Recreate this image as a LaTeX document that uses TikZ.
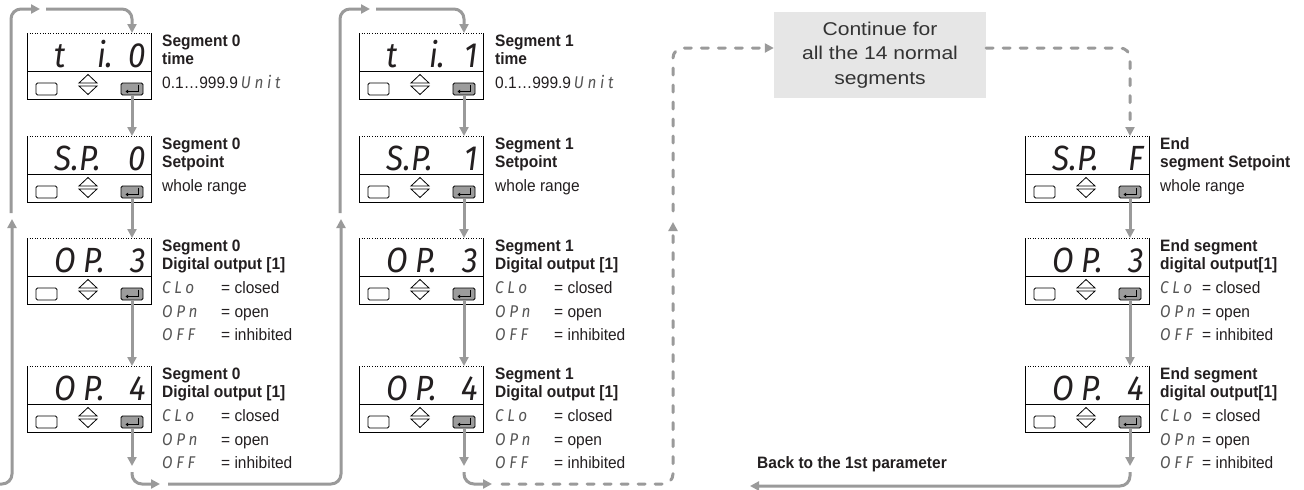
\documentclass[tikz,border=0pt]{standalone}
\usepackage{fontspec}
\setmainfont[FakeStretch=0.94]{Liberation Sans}
\newfontfamily\boxfont[FakeStretch=1.14]{Liberation Sans}
\newfontfamily\segfont[FakeStretch=0.9]{Fira Sans Italic}
\newfontfamily\legfont[FakeStretch=0.9,LetterSpace=22]{Fira Sans Italic}
\usetikzlibrary{arrows.meta}
\definecolor{ag}{HTML}{9A9A9A}
\definecolor{eg}{HTML}{9C9C9C}
\definecolor{gbx}{HTML}{E6E6E6}
\definecolor{tx}{HTML}{231F20}
\definecolor{tx2}{HTML}{333333}
\definecolor{lgc}{HTML}{555555}
\tikzset{
  arr/.style={draw=ag, line width=3pt, -{Triangle[length=9pt,width=9pt]}},
  rc/.style={rounded corners=10pt},
  dsh/.style={dash pattern=on 7pt off 10pt, line cap=round},
  boxnode/.style={minimum width=124pt, minimum height=66pt, inner sep=0pt, outer sep=0pt, draw=none},
  btn/.style={draw=black, line width=0.8pt, fill=white, minimum width=21pt, minimum height=12pt, rounded corners=1.5pt, inner sep=0pt, outer sep=0pt},
  ebtn/.style={btn, fill=eg, minimum width=22pt},
  seg/.style={font=\segfont\fontsize{35}{35}\selectfont, inner sep=0pt, text=tx},
  hd/.style={font=\bfseries\fontsize{16.5}{18}\selectfont, inner sep=0pt, anchor=base west, text=tx},
  rg/.style={font=\fontsize{16.5}{18}\selectfont, inner sep=0pt, anchor=base west, text=tx},
  lg/.style={font=\legfont\fontsize{17}{17}\selectfont, inner sep=0pt, anchor=base west, text=lgc},
}
% display: #1 name, #2 x, #3 y, #4 g1, #5 g2, #6 g3, #7 x of g2
\newcommand{\disp}[7]{%
\begin{scope}[shift={(#2,#3)}]
\node[boxnode] (#1) at (62,33) {};
\draw[line width=0.8pt] (0,0) -- (0,66) -- (124,66) -- (124,0);
\draw[line width=0.8pt, dash pattern=on 1pt off 1.6pt] (0,0) -- (124,0);
\draw[line width=0.8pt] (0,38) -- (124,38);
\node[btn] (#1l) at (19.5,56) {};
\node[ebtn] (#1e) at (105,56) {};
\draw[line width=0.9pt, -{Triangle[length=2.5pt,width=3.5pt]}] (111,51.5) -- (111,58.5) -- (98.5,58.5);
\draw[line width=0.8pt, fill=white] (52,50) -- (61,41.5) -- (70,50) -- cycle;
\draw[line width=0.8pt, fill=white] (52,53) -- (61,61.5) -- (70,53) -- cycle;
\node[seg, anchor=base west] (#1a) at (27,34) {#4};
\node[seg, anchor=base west] (#1b) at (#7,34) {#5};
\node[seg, anchor=base east] (#1c) at (119,34) {#6};
\end{scope}}
\newcommand{\heads}[5]{%
\node[hd] (#1a) at (#2,#3+13.5) {#4};
\node[hd] (#1b) at (#2,#3+31.5) {#5};}
\newcommand{\legend}[4]{%
\node[lg] (#1c) at (#2,#3+55) {CLo};
\node[rg] (#1cc) at (#4,#3+55) {= closed};
\node[lg] (#1o) at (#2,#3+79) {OPn};
\node[rg] (#1oo) at (#4,#3+79) {= open};
\node[lg] (#1f) at (#2,#3+102) {OFF};
\node[rg] (#1ff) at (#4,#3+102) {= inhibited};}
\begin{document}
\begin{tikzpicture}[x=1pt,y=-1pt]
\useasboundingbox (0,0) rectangle (1304,490);
\fill[white] (0,0) rectangle (1304,490);

% ---- column 0
\disp{b00}{27}{33}{t}{i.}{0}{70}
\disp{b01}{27}{136}{S.}{P.}{0}{52}
\disp{b02}{27}{238}{O}{P.}{3}{56}
\disp{b03}{27}{366}{O}{P.}{4}{56}
\heads{t00}{162}{33}{Segment 0}{time}
\node[rg] (t00c) at (162,88) {0.1…999.9\,{\legfont\fontsize{17}{17}\selectfont\color{lgc}Unit}};
\heads{t01}{162}{136}{Segment 0}{Setpoint}
\node[rg] (t01c) at (162,191) {whole range};
\heads{t02}{162}{238}{Segment 0}{Digital output [1]}
\legend{t02}{162}{238}{221}
\heads{t03}{162}{366}{Segment 0}{Digital output [1]}
\legend{t03}{162}{366}{221}

% ---- column 1
\disp{b10}{359}{33}{t}{i.}{1}{70}
\disp{b11}{359}{136}{S.}{P.}{1}{52}
\disp{b12}{359}{238}{O}{P.}{3}{56}
\disp{b13}{359}{366}{O}{P.}{4}{56}
\heads{t10}{495}{33}{Segment 1}{time}
\node[rg] (t10c) at (495,88) {0.1…999.9\,{\legfont\fontsize{17}{17}\selectfont\color{lgc}Unit}};
\heads{t11}{495}{136}{Segment 1}{Setpoint}
\node[rg] (t11c) at (495,191) {whole range};
\heads{t12}{495}{238}{Segment 1}{Digital output [1]}
\legend{t12}{495}{238}{554}
\heads{t13}{495}{366}{Segment 1}{Digital output [1]}
\legend{t13}{495}{366}{554}

% ---- end column
\disp{b21}{1025}{136}{S.}{P.}{F}{52}
\disp{b22}{1025}{238}{O}{P.}{3}{56}
\disp{b23}{1025}{366}{O}{P.}{4}{56}
\heads{t21}{1160}{136}{End}{segment Setpoint}
\node[rg] (t21c) at (1160,191) {whole range};
\heads{t22}{1160}{238}{End segment}{digital output[1]}
\legend{t22}{1160}{238}{1202}
\heads{t23}{1160}{366}{End segment}{digital output[1]}
\legend{t23}{1160}{366}{1202}

% ---- grey box and back label
\node[fill=gbx, minimum width=212pt, minimum height=86pt, inner sep=0pt, align=center,
      font=\boxfont\fontsize{18.5}{24.5}\selectfont, text=tx2] (gray) at (880,55)
      {Continue for\\all the 14 normal\\segments};
\node[hd] (back) at (757,468) {Back to the 1st parameter};

% ---- connector coordinates
\coordinate (in0) at (-8,484);
\coordinate (u0) at (12,219);
\coordinate (u0b) at (11,213);
\coordinate (t0) at (40,9);
\coordinate (t0b) at (46,9);
\coordinate (d0) at (132,466);
\coordinate (d0b) at (132,472);
\coordinate (h0) at (160,484);
\coordinate (h0b) at (168,484);
\coordinate (u1) at (341,219);
\coordinate (u1b) at (340,213);
\coordinate (t1) at (370,9);
\coordinate (t1b) at (376,9);
\coordinate (d1) at (464,466);
\coordinate (d1b) at (464,472);
\coordinate (h1) at (492,484);
\coordinate (h1b) at (502,484);
\coordinate (u2) at (673,222);
\coordinate (u2b) at (673,211);
\coordinate (d2) at (1130,466);
\coordinate (d2b) at (1130,472);
\coordinate (bk) at (750,486);

% ---- connectors column 0
\draw[arr,rc] (in0) -| (u0);
\draw[arr,rc] (u0b) |- (t0);
\draw[arr,rc] (t0b) -| (b00e |- b00.north);
\draw[arr] (b00e.south) -- (b00e |- b01.north);
\draw[arr] (b01e.south) -- (b01e |- b02.north);
\draw[arr] (b02e.south) -- (b02e |- b03.north);
\draw[arr] (b03e.south) -- (d0);
\draw[arr,rc] (d0b) |- (h0);
% ---- column 1
\draw[arr,rc] (h0b) -| (u1);
\draw[arr,rc] (u1b) |- (t1);
\draw[arr,rc] (t1b) -| (b10e |- b10.north);
\draw[arr] (b10e.south) -- (b10e |- b11.north);
\draw[arr] (b11e.south) -- (b11e |- b12.north);
\draw[arr] (b12e.south) -- (b12e |- b13.north);
\draw[arr] (b13e.south) -- (d1);
\draw[arr,rc] (d1b) |- (h1);
% ---- dashed continuation
\draw[arr,rc,dsh] (h1b) -| (u2);
\draw[arr,rc,dsh] (u2b) |- ([yshift=7pt]gray.west);
\draw[arr,rc,dsh] ([yshift=7pt]gray.east) -| (b21e |- b21.north);
% ---- end column
\draw[arr] (b21e.south) -- (b21e |- b22.north);
\draw[arr] (b22e.south) -- (b22e |- b23.north);
\draw[arr] (b23e.south) -- (d2);
\draw[arr,rc] (d2b) |- (bk);
\end{tikzpicture}
\end{document}
